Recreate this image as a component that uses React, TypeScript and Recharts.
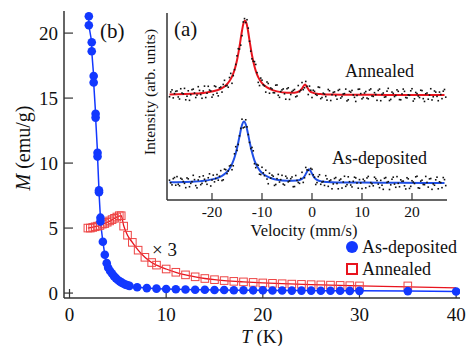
import { ComposedChart, Line, Scatter, XAxis, YAxis, CartesianGrid, Legend, Customized } from 'recharts';

const SERIF = '"Liberation Serif", "Times New Roman", serif';
const BLUE = '#1238ff';
const RED = '#e8141e';
const SQUARE_RED = '#ee4444';
const FRAME = '#333';
const INK = '#111';

// panel (b): magnetisation vs temperature
const depT = [2.0, 2.0, 2.3, 2.3, 2.5, 2.5, 2.7, 2.7, 2.9, 2.9, 3.05, 3.05, 3.2, 3.2, 3.45, 3.65, 3.85, 4.0, 4.2, 4.4, 4.6, 4.8, 5.0, 5.2, 5.4, 5.6, 5.8, 6.0, 6.2, 7, 8, 9, 10, 11, 12, 13, 14, 15, 16, 17, 18, 19, 20, 21, 22, 23, 24, 25, 26, 27, 28, 29, 30, 35, 40];
const depM = [21.3, 20.6, 19.3, 18.6, 16.7, 16.2, 13.8, 13.5, 10.8, 10.5, 7.9, 7.75, 5.8, 5.5, 3.95, 2.95, 2.3, 1.95, 1.7, 1.5, 1.3, 1.15, 1.0, 0.9, 0.8, 0.72, 0.65, 0.6, 0.55, 0.45, 0.38, 0.34, 0.31, 0.29, 0.27, 0.26, 0.25, 0.24, 0.23, 0.22, 0.22, 0.21, 0.21, 0.2, 0.2, 0.19, 0.19, 0.19, 0.18, 0.18, 0.18, 0.17, 0.17, 0.15, 0.12];

const annT = [1.9, 2.15, 2.4, 2.65, 2.9, 3.15, 3.4, 3.65, 3.9, 4.15, 4.4, 4.65, 4.9, 5.15, 5.35, 5.6, 6.0, 6.5, 7.1, 7.8, 8.5, 9, 10, 11, 12, 13, 14, 15, 16, 17, 18, 19, 20, 21, 22, 23, 24, 25, 26, 27, 28, 29, 30, 35];
const annM = [5.0, 5.0, 5.05, 5.1, 5.15, 5.2, 5.3, 5.35, 5.45, 5.55, 5.65, 5.75, 5.85, 5.95, 5.95, 5.15, 4.45, 3.9, 3.3, 2.75, 2.35, 2.15, 1.85, 1.6, 1.4, 1.25, 1.12, 1.03, 0.96, 0.9, 0.86, 0.82, 0.78, 0.75, 0.72, 0.69, 0.67, 0.65, 0.63, 0.61, 0.59, 0.57, 0.55, 0.55];

const annFitT = [1.9, 3, 4, 5, 5.35, 5.6, 6, 6.5, 7.1, 7.8, 8.5, 9, 10, 11, 12, 13, 14, 15, 16, 18, 20, 22, 25, 30, 35, 40];
const annFitM = [5.0, 5.17, 5.47, 5.88, 5.95, 5.2, 4.45, 3.9, 3.3, 2.75, 2.35, 2.15, 1.85, 1.6, 1.4, 1.25, 1.12, 1.03, 0.96, 0.86, 0.78, 0.72, 0.65, 0.55, 0.48, 0.4];

const tTicks = [0, 10, 20, 30, 40];
const mTicks = [0, 5, 10, 15, 20];

// inset (a): Mossbauer spectra, two interleaved sets of channels
const velocityA = [
  -28.5, -28, -27.5,
  -27, -26.5, -26, -25.5, -25, -24.5, -24, -23.5, -23, -22.5,
  -22, -21.5, -21, -20.5, -20, -19.5, -19, -18.5, -18, -17.5,
  -17, -16.5, -16, -15.5, -15, -14.5, -14, -13.5, -13, -12.5,
  -12, -11.5, -11, -10.5, -10, -9.5, -9, -8.5, -8, -7.5,
  -7, -6.5, -6, -5.5, -5, -4.5, -4, -3.5, -3, -2.5,
  -2, -1.5, -1, -0.5, 0, 0.5, 1, 1.5, 2, 2.5,
  3, 3.5, 4, 4.5, 5, 5.5, 6, 6.5, 7, 7.5,
  8, 8.5, 9, 9.5, 10, 10.5, 11, 11.5, 12, 12.5,
  13, 13.5, 14, 14.5, 15, 15.5, 16, 16.5, 17, 17.5,
  18, 18.5, 19, 19.5, 20, 20.5, 21, 21.5, 22, 22.5,
  23, 23.5, 24, 24.5, 25, 25.5, 26, 26.5,
];
const velocityB = [
  -28.25, -27.75, -27.25,
  -26.75, -26.25, -25.75, -25.25, -24.75, -24.25, -23.75, -23.25, -22.75, -22.25,
  -21.75, -21.25, -20.75, -20.25, -19.75, -19.25, -18.75, -18.25, -17.75, -17.25,
  -16.75, -16.25, -15.75, -15.25, -14.75, -14.25, -13.75, -13.25, -12.75, -12.25,
  -11.75, -11.25, -10.75, -10.25, -9.75, -9.25, -8.75, -8.25, -7.75, -7.25,
  -6.75, -6.25, -5.75, -5.25, -4.75, -4.25, -3.75, -3.25, -2.75, -2.25,
  -1.75, -1.25, -0.75, -0.25, 0.25, 0.75, 1.25, 1.75, 2.25, 2.75,
  3.25, 3.75, 4.25, 4.75, 5.25, 5.75, 6.25, 6.75, 7.25, 7.75,
  8.25, 8.75, 9.25, 9.75, 10.25, 10.75, 11.25, 11.75, 12.25, 12.75,
  13.25, 13.75, 14.25, 14.75, 15.25, 15.75, 16.25, 16.75, 17.25, 17.75,
  18.25, 18.75, 19.25, 19.75, 20.25, 20.75, 21.25, 21.75, 22.25, 22.75,
  23.25, 23.75, 24.25, 24.75, 25.25, 25.75, 26.25, 26.75,
];
const annealedCountsA = [
  55.2, 58.9, 56.9,
  58.3, 54.0, 57.2, 59.7, 55.5, 53.3, 59.0, 57.2, 56.1, 58.6,
  54.4, 60.9, 57.1, 58.8, 55.0, 61.0, 57.1, 60.0, 57.7, 64.0,
  61.2, 65.5, 62.4, 69.7, 77.1, 80.7, 87.9, 97.0, 96.4, 84.9,
  75.5, 74.0, 68.1, 61.2, 64.1, 61.0, 63.1, 57.1, 59.4, 57.3,
  61.5, 54.9, 58.9, 56.8, 59.5, 53.8, 58.0, 59.1, 55.6, 57.9,
  62.8, 60.0, 60.8, 60.9, 54.8, 58.1, 56.0, 60.2, 54.8, 56.6,
  53.4, 58.4, 56.3, 57.8, 53.9, 59.1, 55.3, 56.9, 53.0, 58.1,
  58.6, 54.9, 55.9, 59.3, 54.1, 57.2, 54.5, 58.8, 55.6, 57.4,
  53.3, 59.3, 56.5, 55.0, 58.2, 53.2, 57.7, 55.3, 58.9, 53.7,
  56.7, 58.1, 54.6, 56.0, 59.5, 54.1, 56.9, 54.8, 58.5, 52.7,
  57.2, 56.1, 53.5, 58.3, 55.4, 57.7, 54.2, 59.1,
];
const annealedCountsB = [
  57.8, 54.6, 58.1,
  55.1, 59.5, 56.8, 53.6, 58.4, 56.3, 59.3, 54.8, 60.6, 56.4,
  58.3, 54.8, 60.8, 58.3, 56.3, 60.6, 55.7, 60.4, 61.8, 61.0,
  60.3, 67.7, 66.5, 72.5, 80.9, 82.8, 95.2, 94.9, 91.9, 79.6,
  74.2, 72.5, 62.9, 65.2, 61.6, 57.7, 62.3, 59.9, 57.4, 61.4,
  56.0, 58.0, 59.4, 53.9, 60.0, 56.4, 58.6, 55.2, 61.2, 58.7,
  59.0, 63.4, 56.4, 58.7, 58.7, 56.5, 60.4, 54.2, 57.1, 55.3,
  59.1, 53.2, 57.5, 55.7, 58.6, 54.5, 56.7, 59.3, 53.6, 57.7,
  56.2, 52.7, 59.2, 56.9, 54.8, 58.0, 54.1, 59.4, 55.4, 56.4,
  58.6, 53.1, 57.2, 55.2, 59.7, 53.8, 57.0, 55.9, 58.1, 53.6,
  59.3, 54.8, 56.2, 58.4, 52.9, 57.5, 55.6, 58.7, 54.2, 56.8,
  53.9, 59.5, 55.2, 57.7, 53.1, 56.4, 58.2, 55.0,
];
const depositedCountsA = [
  10.6, 8.1, 12.0,
  12.5, 7.6, 11.1, 8.9, 11.8, 7.1, 9.8, 10.9, 6.5, 12.4,
  8.9, 11.1, 8.4, 14.0, 10.7, 9.7, 13.6, 12.7, 10.4, 16.5,
  14.1, 18.2, 16.2, 24.7, 26.5, 34.3, 43.2, 39.0, 39.1, 30.8,
  28.1, 19.4, 19.0, 13.8, 17.5, 13.0, 11.2, 14.3, 13.3, 7.8,
  11.4, 9.6, 13.2, 8.0, 11.7, 10.2, 12.3, 7.2, 10.5, 8.9,
  14.8, 11.9, 16.1, 13.7, 16.4, 12.2, 9.3, 13.5, 9.6, 7.8,
  11.3, 10.2, 6.0, 11.5, 8.8, 10.6, 6.4, 12.7, 8.2, 9.8,
  7.0, 12.2, 9.1, 10.9, 6.1, 10.2, 11.8, 7.3, 8.7, 12.2,
  10.4, 6.6, 7.9, 11.6, 9.4, 5.6, 11.1, 8.5, 12.5, 7.1,
  10.0, 7.6, 11.9, 6.2, 10.3, 8.8, 12.7, 6.3, 10.6, 8.2,
  9.4, 11.3, 5.7, 7.9, 12.2, 9.7, 6.6, 10.9,
];
const depositedCountsB = [
  9.2, 11.4, 7.9,
  8.4, 11.6, 9.9, 6.6, 11.3, 8.9, 13.2, 7.7, 10.7, 8.2,
  12.9, 9.9, 11.9, 7.5, 13.3, 11.5, 10.6, 15.7, 10.8, 16.2,
  15.5, 18.6, 18.3, 28.5, 29.7, 38.3, 38.6, 42.9, 35.0, 27.5,
  26.3, 17.3, 18.6, 13.6, 14.5, 15.9, 8.7, 11.7, 12.7, 8.3,
  13.7, 10.9, 8.5, 12.7, 9.7, 11.4, 7.1, 13.1, 9.4, 11.5,
  9.4, 17.4, 15.9, 16.9, 13.5, 8.3, 12.5, 8.4, 9.9, 13.0,
  7.3, 10.7, 8.6, 12.0, 6.0, 11.2, 9.6, 7.3, 12.4, 8.0,
  10.0, 11.8, 6.3, 9.1, 11.1, 6.5, 12.6, 9.3, 7.6, 11.4,
  8.5, 10.5, 5.7, 12.0, 9.8, 8.1, 12.2, 6.8, 8.9, 10.8,
  10.1, 5.9, 11.3, 7.3, 9.6, 12.4, 6.5, 10.1, 8.3, 12.6,
  6.9, 11.5, 8.6, 10.8, 6.0, 9.3, 12.0, 7.7,
];

const annealedFitV = [-28.5, -27, -24, -21, -19, -18, -17, -16.5, -16, -15.5, -15, -14.5, -14, -13.7, -13.4, -13.1, -12.8, -12.5, -12, -11.5, -11, -10.5, -10, -9, -8, -7, -5, -3.5, -2.5, -2, -1.4, -1, -0.5, 0, 1, 2, 4, 8, 15, 20, 26.5];
const annealedFitI = [56.45, 56.5, 56.8, 57.5, 58.7, 59.8, 61.9, 63.6, 66.0, 69.5, 74.7, 82.0, 90.5, 94.5, 96.0, 94.5, 90.5, 85.4, 77.4, 71.4, 67.2, 64.4, 62.5, 60.2, 58.9, 58.1, 57.4, 57.4, 58.2, 59.6, 61.7, 60.4, 58.4, 57.5, 56.8, 56.6, 56.4, 56.25, 56.2, 56.1, 56.1];
const depositedFitV = [-28.5, -27, -24, -21, -19, -18, -17, -16.5, -16, -15.5, -15, -14.5, -14, -13.6, -13.2, -12.8, -12.5, -12, -11.5, -11, -10.5, -10, -9, -8, -7, -5, -3, -2, -1.5, -1, -0.6, -0.2, 0.5, 1, 2, 3, 5, 10, 18, 26.5];
const depositedFitI = [9.45, 9.5, 9.8, 10.5, 11.7, 12.9, 15.0, 16.7, 19.2, 22.7, 27.7, 34.0, 40.1, 42.0, 40.1, 35.4, 31.4, 25.5, 21.1, 18.1, 16.0, 14.5, 12.6, 11.5, 10.8, 10.3, 10.4, 11.3, 12.7, 15.1, 16.5, 15.1, 11.8, 10.8, 9.9, 9.6, 9.4, 9.3, 9.2, 9.1];

const vTicks = [-20, -10, 0, 10, 20];

const zipTM = (ts: number[], ms: number[]) => ts.map((T, i) => ({ T, M: ms[i] }));
const zipVI = (vs: number[], is: number[]) => vs.map((v, i) => ({ v, I: is[i] }));

const depData = zipTM(depT, depM);
const annData = zipTM(annT, annM);
const annFit = zipTM(annFitT, annFitM);
const annealedSpec = [...zipVI(velocityA, annealedCountsA), ...zipVI(velocityB, annealedCountsB)];
const depositedSpec = [...zipVI(velocityA, depositedCountsA), ...zipVI(velocityB, depositedCountsB)];
const annealedFit = zipVI(annealedFitV, annealedFitI);
const depositedFit = zipVI(depositedFitV, depositedFitI);

const legendItems = [
  { name: 'As-deposited', color: BLUE, kind: 'circle' },
  { name: 'Annealed', color: RED, kind: 'square' },
];

const BlueDot = (p: any) => <circle cx={p.cx} cy={p.cy} r={4.3} fill={BLUE} />;
const RedSquare = (p: any) => (
  <rect x={p.cx - 3.8} y={p.cy - 3.8} width={7.6} height={7.6} fill="none" stroke={SQUARE_RED} strokeWidth={1} />
);
const Speck = (p: any) => <rect x={p.cx - 0.8} y={p.cy - 0.8} width={1.6} height={1.6} fill={INK} />;

function MainLegend() {
  return (
    <div style={{ fontFamily: SERIF, fontSize: 18, color: INK, lineHeight: '22px' }}>
      {legendItems.map((it) => (
        <div key={it.name} style={{ display: 'flex', alignItems: 'center', height: 22 }}>
          {it.kind === 'circle' ? (
            <span style={{ width: 12, height: 12, borderRadius: 6, background: it.color, marginRight: 4 }} />
          ) : (
            <span style={{ width: 8, height: 8, border: `2px solid ${it.color}`, marginRight: 4 }} />
          )}
          <span>{it.name}</span>
        </div>
      ))}
    </div>
  );
}

const MainNotes = () => (
  <g fontFamily={SERIF} fill={INK}>
    <text x={100} y={38} fontSize={21}>(b)</text>
    <text x={152} y={256} fontSize={19}>× 3</text>
    <text x={262} y={343} fontSize={19} textAnchor="middle">
      <tspan fontStyle="italic">T</tspan> (K)
    </text>
    <text x={30} y={148} fontSize={20} textAnchor="middle" transform="rotate(-90 30 148)">
      <tspan fontStyle="italic">M</tspan> (emu/g)
    </text>
  </g>
);

const InsetNotes = () => (
  <g fontFamily={SERIF} fill={INK}>
    <text x={44} y={36} fontSize={21}>(a)</text>
    <text x={215} y={77} fontSize={18}>Annealed</text>
    <text x={202} y={164} fontSize={18}>As-deposited</text>
    <text x={174} y={236} fontSize={16.5} textAnchor="middle">Velocity (mm/s)</text>
    <text x={25} y={92} fontSize={15.5} textAnchor="middle" transform="rotate(-90 25 92)">
      Intensity (arb. units)
    </text>
  </g>
);

const frame = { stroke: FRAME, strokeWidth: 1.5 };

export default function App() {
  return (
    <div style={{ position: 'absolute', left: 0, top: 0, width: 469, height: 346, background: '#fff' }}>
      <ComposedChart width={469} height={346} margin={{ top: 11, right: 9, left: 0, bottom: 0 }}>
        <XAxis
          type="number"
          dataKey="T"
          domain={[-0.57, 40.4]}
          ticks={tTicks}
          allowDataOverflow
          height={48}
          axisLine={frame}
          tickLine={{ stroke: FRAME, strokeWidth: 1.2 }}
          tickSize={-9}
          tickMargin={18.5}
          tick={{ fontSize: 19, fontFamily: SERIF, fill: INK }}
        />
        <YAxis
          type="number"
          dataKey="M"
          domain={[-0.38, 21.7]}
          ticks={mTicks}
          allowDataOverflow
          width={64}
          axisLine={frame}
          tickLine={{ stroke: FRAME, strokeWidth: 1.2 }}
          tickSize={-9}
          tickMargin={15}
          tick={{ fontSize: 19, fontFamily: SERIF, fill: INK }}
        />
        <XAxis xAxisId="top" orientation="top" type="number" domain={[0, 1]} height={0} tick={false} tickLine={false} axisLine={frame} />
        <YAxis yAxisId="right" orientation="right" type="number" domain={[0, 1]} width={0} tick={false} tickLine={false} axisLine={frame} />
        <Legend
          layout="vertical"
          align="center"
          verticalAlign="middle"
          content={MainLegend}
          wrapperStyle={{ left: 346, top: 236, width: 120 }}
        />
        <Line data={annFit} dataKey="M" type="monotone" stroke={RED} strokeWidth={1.3} dot={false} isAnimationActive={false} legendType="none" />
        <Scatter data={annData} dataKey="M" shape={RedSquare} isAnimationActive={false} name="Annealed" />
        <Line data={depData} dataKey="M" type="linear" stroke={BLUE} strokeWidth={1.5} dot={false} isAnimationActive={false} legendType="none" />
        <Scatter data={depData} dataKey="M" shape={BlueDot} isAnimationActive={false} name="As-deposited" />
        <Customized component={MainNotes} />
      </ComposedChart>

      <div style={{ position: 'absolute', left: 130, top: 0 }}>
        <ComposedChart width={330} height={245} margin={{ top: 13, right: 13, left: 0, bottom: 0 }}>
          <CartesianGrid horizontal={false} vertical={false} fill="#fff" />
          <XAxis
            type="number"
            dataKey="v"
            domain={[-29, 27]}
            ticks={vTicks}
            allowDataOverflow
            height={45}
            axisLine={frame}
            tickLine={{ stroke: FRAME, strokeWidth: 1.2 }}
            tickSize={-7}
            tickMargin={13}
            tick={{ fontSize: 15.5, fontFamily: SERIF, fill: INK }}
          />
          <YAxis type="number" dataKey="I" domain={[0, 100]} width={37} tick={false} tickLine={false} axisLine={frame} />
          <XAxis xAxisId="top" orientation="top" type="number" domain={[0, 1]} height={0} tick={false} tickLine={false} axisLine={frame} />
          <YAxis yAxisId="right" orientation="right" type="number" domain={[0, 1]} width={0} tick={false} tickLine={false} axisLine={frame} />
          <Scatter data={annealedSpec} dataKey="I" shape={Speck} isAnimationActive={false} />
          <Scatter data={depositedSpec} dataKey="I" shape={Speck} isAnimationActive={false} />
          <Line data={annealedFit} dataKey="I" type="monotone" stroke={RED} strokeWidth={2} dot={false} isAnimationActive={false} />
          <Line data={depositedFit} dataKey="I" type="monotone" stroke="#1f4fe6" strokeWidth={2} dot={false} isAnimationActive={false} />
          <Customized component={InsetNotes} />
        </ComposedChart>
      </div>
    </div>
  );
}
